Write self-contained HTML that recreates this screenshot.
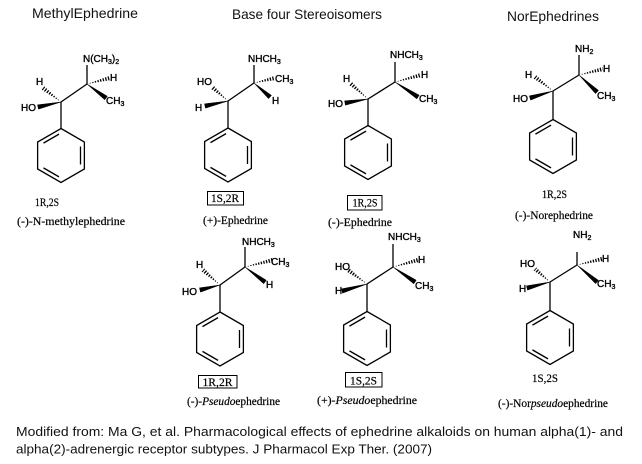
<!DOCTYPE html>
<html><head><meta charset="utf-8"><style>
html,body{margin:0;padding:0;background:#fff;}
svg{display:block;}
.a{font-family:"Liberation Sans",sans-serif;font-size:10px;fill:#000;stroke:#000;stroke-width:0.35;}
.s{font-family:"Liberation Serif",serif;font-size:11.5px;fill:#000;stroke:#000;stroke-width:0.2;}
.t{font-family:"Liberation Sans",sans-serif;font-size:14px;fill:#111;}
.c{font-family:"Liberation Sans",sans-serif;font-size:13px;fill:#111;}
</style></head><body>
<svg width="642" height="464" viewBox="0 0 642 464" xmlns="http://www.w3.org/2000/svg">
<defs>
<g id="ring" fill="none" stroke="#000" stroke-width="1.3">
<polygon points="0,-27 23.38,-13.5 23.38,13.5 0,27 -23.38,13.5 -23.38,-13.5"/>
<line x1="19.49" y1="-9" x2="19.49" y2="9"/>
<line x1="-1.95" y1="21.375" x2="-17.54" y2="12.375"/>
<line x1="-17.54" y1="-12.375" x2="-1.95" y2="-21.375"/>
</g>
<clipPath id="h1"><polygon points="87,84 110.55,80.13 109.45,75.87"/></clipPath>
<clipPath id="h2"><polygon points="61,102 44.35,86.26 41.65,89.74"/></clipPath>
<clipPath id="h3"><polygon points="254,83 275.51,80.14 274.49,75.86"/></clipPath>
<clipPath id="h4"><polygon points="228,101 213.45,85.35 210.55,88.65"/></clipPath>
<clipPath id="h5"><polygon points="395,82 421.57,77.12 420.43,72.88"/></clipPath>
<clipPath id="h6"><polygon points="368,99 351.46,81.36 348.54,84.64"/></clipPath>
<clipPath id="h7"><polygon points="579,75 603.53,71.13 602.47,66.87"/></clipPath>
<clipPath id="h8"><polygon points="553,91 536.35,75.26 533.65,78.74"/></clipPath>
<clipPath id="h9"><polygon points="245,267 273.53,262.13 272.47,257.87"/></clipPath>
<clipPath id="h10"><polygon points="220,285 204.46,268.35 201.54,271.65"/></clipPath>
<clipPath id="h11"><polygon points="393,267 418.59,262.12 417.41,257.88"/></clipPath>
<clipPath id="h12"><polygon points="367,284 349.3,268.23 346.7,271.77"/></clipPath>
<clipPath id="h13"><polygon points="577,265 602.51,261.14 601.49,256.86"/></clipPath>
<clipPath id="h14"><polygon points="550,282 536.44,267.34 533.56,270.66"/></clipPath>
</defs>

<!-- Titles -->
<text class="t" x="32" y="18" textLength="106" lengthAdjust="spacingAndGlyphs">MethylEphedrine</text>
<text class="t" x="232" y="19" textLength="150" lengthAdjust="spacingAndGlyphs">Base four Stereoisomers</text>
<text class="t" x="507" y="21" textLength="92" lengthAdjust="spacingAndGlyphs">NorEphedrines</text>

<g stroke="#000" stroke-width="1.3" fill="none">
<line x1="61" y1="102" x2="87" y2="84"/><line x1="87" y1="84" x2="87" y2="65"/><line x1="61" y1="102" x2="61" y2="128.5"/>
<line x1="228" y1="101" x2="254" y2="83"/><line x1="254" y1="83" x2="254" y2="65"/><line x1="228" y1="101" x2="228" y2="128"/>
<line x1="368" y1="99" x2="395" y2="82"/><line x1="395" y1="82" x2="395" y2="62"/><line x1="368" y1="99" x2="368" y2="125.5"/>
<line x1="553" y1="91" x2="579" y2="75"/><line x1="579" y1="75" x2="579" y2="55"/><line x1="553" y1="91" x2="553" y2="119.5"/>
<line x1="220" y1="285" x2="245" y2="267"/><line x1="245" y1="267" x2="245" y2="247"/><line x1="220" y1="285" x2="220" y2="312"/>
<line x1="367" y1="284" x2="393" y2="267"/><line x1="393" y1="267" x2="393" y2="244"/><line x1="367" y1="284" x2="367" y2="311.5"/>
<line x1="550" y1="282" x2="577" y2="265"/><line x1="577" y1="265" x2="577" y2="252"/><line x1="550" y1="282" x2="550" y2="310.5"/>
</g>

<use href="#ring" x="61" y="155.5"/>
<use href="#ring" x="228" y="155"/>
<use href="#ring" x="368" y="152.5"/>
<use href="#ring" x="553" y="146.5"/>
<use href="#ring" x="220" y="339"/>
<use href="#ring" x="367" y="338.5"/>
<use href="#ring" x="550" y="337.5"/>

<g stroke="#000" stroke-width="7" stroke-dasharray="1.3 1.4">
<line x1="87" y1="84" x2="110" y2="78" clip-path="url(#h1)"/>
<line x1="61" y1="102" x2="43" y2="88" clip-path="url(#h2)"/>
<line x1="254" y1="83" x2="275" y2="78" clip-path="url(#h3)"/>
<line x1="228" y1="101" x2="212" y2="87" clip-path="url(#h4)"/>
<line x1="395" y1="82" x2="421" y2="75" clip-path="url(#h5)"/>
<line x1="368" y1="99" x2="350" y2="83" clip-path="url(#h6)"/>
<line x1="579" y1="75" x2="603" y2="69" clip-path="url(#h7)"/>
<line x1="553" y1="91" x2="535" y2="77" clip-path="url(#h8)"/>
<line x1="245" y1="267" x2="273" y2="260" clip-path="url(#h9)"/>
<line x1="220" y1="285" x2="203" y2="270" clip-path="url(#h10)"/>
<line x1="393" y1="267" x2="418" y2="260" clip-path="url(#h11)"/>
<line x1="367" y1="284" x2="348" y2="270" clip-path="url(#h12)"/>
<line x1="577" y1="265" x2="602" y2="259" clip-path="url(#h13)"/>
<line x1="550" y1="282" x2="535" y2="269" clip-path="url(#h14)"/>
</g>

<g fill="#000" stroke="#000" stroke-width="0.5" stroke-linejoin="round">
<polygon points="87,84 104.7,99.77 107.3,96.23"/>
<polygon points="61,102 37.53,104.85 38.47,109.15"/>
<polygon points="254,83 268.55,98.65 271.45,95.35"/>
<polygon points="228,101 204.53,103.85 205.47,108.15"/>
<polygon points="395,82 416.8,98.84 419.2,95.16"/>
<polygon points="368,99 344.62,100.83 345.38,105.17"/>
<polygon points="579,75 595.49,93.6 598.51,90.4"/>
<polygon points="553,91 529.36,95.9 530.64,100.1"/>
<polygon points="245,267 263.68,283.76 266.32,280.24"/>
<polygon points="220,285 199.47,287.87 200.53,292.13"/>
<polygon points="393,267 413.76,283.82 416.24,280.18"/>
<polygon points="367,284 341.41,288.88 342.59,293.12"/>
<polygon points="577,265 595.57,283.68 598.43,280.32"/>
<polygon points="550,282 526.45,285.87 527.55,290.13"/>
</g>

<g class="a">
<text x="83" y="62">N(CH<tspan font-size="7" dy="2">3</tspan><tspan dy="-2">)</tspan><tspan font-size="7" dy="2">2</tspan></text>
<text x="110" y="81">H</text>
<text x="106" y="104">CH<tspan font-size="7" dy="2">3</tspan></text>
<text x="36" y="85">H</text>
<text x="21" y="111">HO</text>
<text x="248" y="62">NHCH<tspan font-size="7" dy="2">3</tspan></text>
<text x="275" y="82">CH<tspan font-size="7" dy="2">3</tspan></text>
<text x="272" y="104">H</text>
<text x="197" y="85">HO</text>
<text x="195" y="111">H</text>
<text x="390" y="58">NHCH<tspan font-size="7" dy="2">3</tspan></text>
<text x="421" y="78">H</text>
<text x="419" y="102">CH<tspan font-size="7" dy="2">3</tspan></text>
<text x="343" y="82">H</text>
<text x="328" y="107">HO</text>
<text x="575" y="52">NH<tspan font-size="7" dy="2">2</tspan></text>
<text x="603" y="72">H</text>
<text x="597" y="99">CH<tspan font-size="7" dy="2">3</tspan></text>
<text x="525" y="78">H</text>
<text x="513" y="102">HO</text>
<text x="242" y="245">NHCH<tspan font-size="7" dy="2">3</tspan></text>
<text x="271" y="265">CH<tspan font-size="7" dy="2">3</tspan></text>
<text x="266" y="288">H</text>
<text x="196" y="268">H</text>
<text x="182" y="295">HO</text>
<text x="388" y="240">NHCH<tspan font-size="7" dy="2">3</tspan></text>
<text x="418" y="263">H</text>
<text x="415" y="289">CH<tspan font-size="7" dy="2">3</tspan></text>
<text x="335" y="270">HO</text>
<text x="335" y="294">H</text>
<text x="573" y="238">NH<tspan font-size="7" dy="2">2</tspan></text>
<text x="602" y="262">H</text>
<text x="597" y="287">CH<tspan font-size="7" dy="2">3</tspan></text>
<text x="520" y="267">HO</text>
<text x="519" y="292">H</text>
</g>

<g fill="none" stroke="#000" stroke-width="1">
<rect x="207.5" y="191.5" width="36" height="13.5"/>
<rect x="347.5" y="195.5" width="34.5" height="14.5"/>
<rect x="198.5" y="375.5" width="38.5" height="12.5"/>
<rect x="345.5" y="372.5" width="36.5" height="14.5"/>
</g>

<g class="s">
<text x="35" y="206" textLength="24" lengthAdjust="spacingAndGlyphs">1R,2S</text>
<text x="17" y="225" textLength="108" lengthAdjust="spacingAndGlyphs">(-)-N-methylephedrine</text>
<text x="211" y="202" textLength="28" lengthAdjust="spacingAndGlyphs">1S,2R</text>
<text x="203" y="224" textLength="65" lengthAdjust="spacingAndGlyphs">(+)-Ephedrine</text>
<text x="352.5" y="206.5" textLength="25" lengthAdjust="spacingAndGlyphs">1R,2S</text>
<text x="328" y="226" textLength="64" lengthAdjust="spacingAndGlyphs">(-)-Ephedrine</text>
<text x="542" y="198" textLength="25" lengthAdjust="spacingAndGlyphs">1R,2S</text>
<text x="515" y="219" textLength="78" lengthAdjust="spacingAndGlyphs">(-)-Norephedrine</text>
<text x="202.5" y="386" textLength="30" lengthAdjust="spacingAndGlyphs">1R,2R</text>
<text x="187" y="405" textLength="93" lengthAdjust="spacingAndGlyphs">(-)-<tspan font-style="italic">Pseudo</tspan>ephedrine</text>
<text x="350" y="384.5" textLength="27" lengthAdjust="spacingAndGlyphs">1S,2S</text>
<text x="317" y="404" textLength="100" lengthAdjust="spacingAndGlyphs">(+)-<tspan font-style="italic">Pseudo</tspan>ephedrine</text>
<text x="532" y="382" textLength="26" lengthAdjust="spacingAndGlyphs">1S,2S</text>
<text x="498" y="407" textLength="110" lengthAdjust="spacingAndGlyphs">(-)-Nor<tspan font-style="italic">pseudo</tspan>ephedrine</text>
</g>

<text class="c" x="16" y="436" textLength="607" lengthAdjust="spacingAndGlyphs">Modified from: Ma G, et al. Pharmacological effects of ephedrine alkaloids on human alpha(1)- and</text>
<text class="c" x="16" y="453.5" textLength="416" lengthAdjust="spacingAndGlyphs">alpha(2)-adrenergic receptor subtypes. J Pharmacol Exp Ther. (2007)</text>
</svg>
</body></html>
